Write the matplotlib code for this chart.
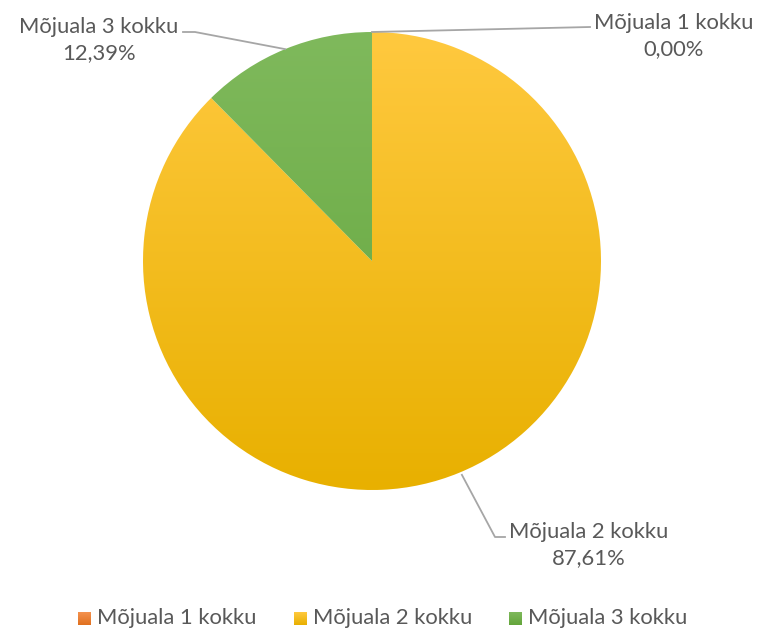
import numpy as np
import matplotlib
matplotlib.use("Agg")
import matplotlib.pyplot as plt
from matplotlib.colors import LinearSegmentedColormap
from matplotlib.patches import Rectangle

labels = ["Mõjuala 1 kokku", "Mõjuala 2 kokku", "Mõjuala 3 kokku"]
values = [0.0, 87.61, 12.39]
pct_text = ["0,00%", "87,61%", "12,39%"]
# top / bottom gradient colours per slice
tops = ["#F4924F", "#FFC93F", "#7FB95C"]
bottoms = ["#E0701F", "#E8B000", "#63A53B"]

plt.rcParams['font.family'] = ['Lato', 'DejaVu Sans']
txt_col = "#595959"
line_col = "#A6A6A6"
fs = 15.8

fig = plt.figure(figsize=(7.58, 6.29), dpi=100)
ax = fig.add_axes([0, 0, 1, 1])

cx, cy, r = 372, 368, 229
wedges, _ = ax.pie(values, startangle=90, counterclock=False, center=(cx, cy),
                   radius=r, colors=tops, frame=True,
                   wedgeprops=dict(linewidth=0))
ax.set_aspect("equal")

grad = np.linspace(0, 1, 256).reshape(-1, 1)
for w, t, b in zip(wedges, tops, bottoms):
    cmap = LinearSegmentedColormap.from_list("g", [b, t])
    im = ax.imshow(grad, cmap=cmap, origin="lower", aspect="auto",
                   extent=(cx - r, cx + r, cy - r, cy + r), zorder=2)
    im.set_clip_path(w)
    w.set_facecolor("none")

# leader lines and labels
tot = sum(values)
start = 90.0
label_pos = [(674, 593), (589, 84), (99, 589)]
for i, v in enumerate(values):
    mid = start - v / tot * 360 / 2
    start -= v / tot * 360
    px = cx + r * np.cos(np.radians(mid))
    py = cy + r * np.sin(np.radians(mid))
    if i == 1:
        xs = [px + 3, 495, 505]
        ys = [py - 2, 92, 92]
    elif i == 2:
        xs = [px, 195, 183]
        ys = [py, 597, 597]
    else:
        xs = [px, 590]
        ys = [py, 602]
    ax.plot(xs, ys, color=line_col, lw=1.3, zorder=3)
    ax.text(label_pos[i][0], label_pos[i][1], labels[i] + "\n" + pct_text[i],
            ha="center", va="center", fontsize=fs, color=txt_col,
            linespacing=1.4)

# legend
leg_x = [78, 294, 509]
for x, lab, t, b in zip(leg_x, labels, tops, bottoms):
    cmap = LinearSegmentedColormap.from_list("g", [b, t])
    rect = Rectangle((x, 4), 13, 13, facecolor="none", edgecolor="none")
    ax.add_patch(rect)
    im = ax.imshow(grad, cmap=cmap, origin="lower", aspect="auto",
                   extent=(x, x + 13, 4, 17), zorder=2)
    im.set_clip_path(rect)
    ax.text(x + 19, 11, lab, ha="left", va="center", fontsize=fs, color=txt_col)

ax.set_xlim(0, 758)
ax.set_ylim(0, 629)
ax.axis("off")

fig.savefig("out.png", dpi=100, facecolor="white")
